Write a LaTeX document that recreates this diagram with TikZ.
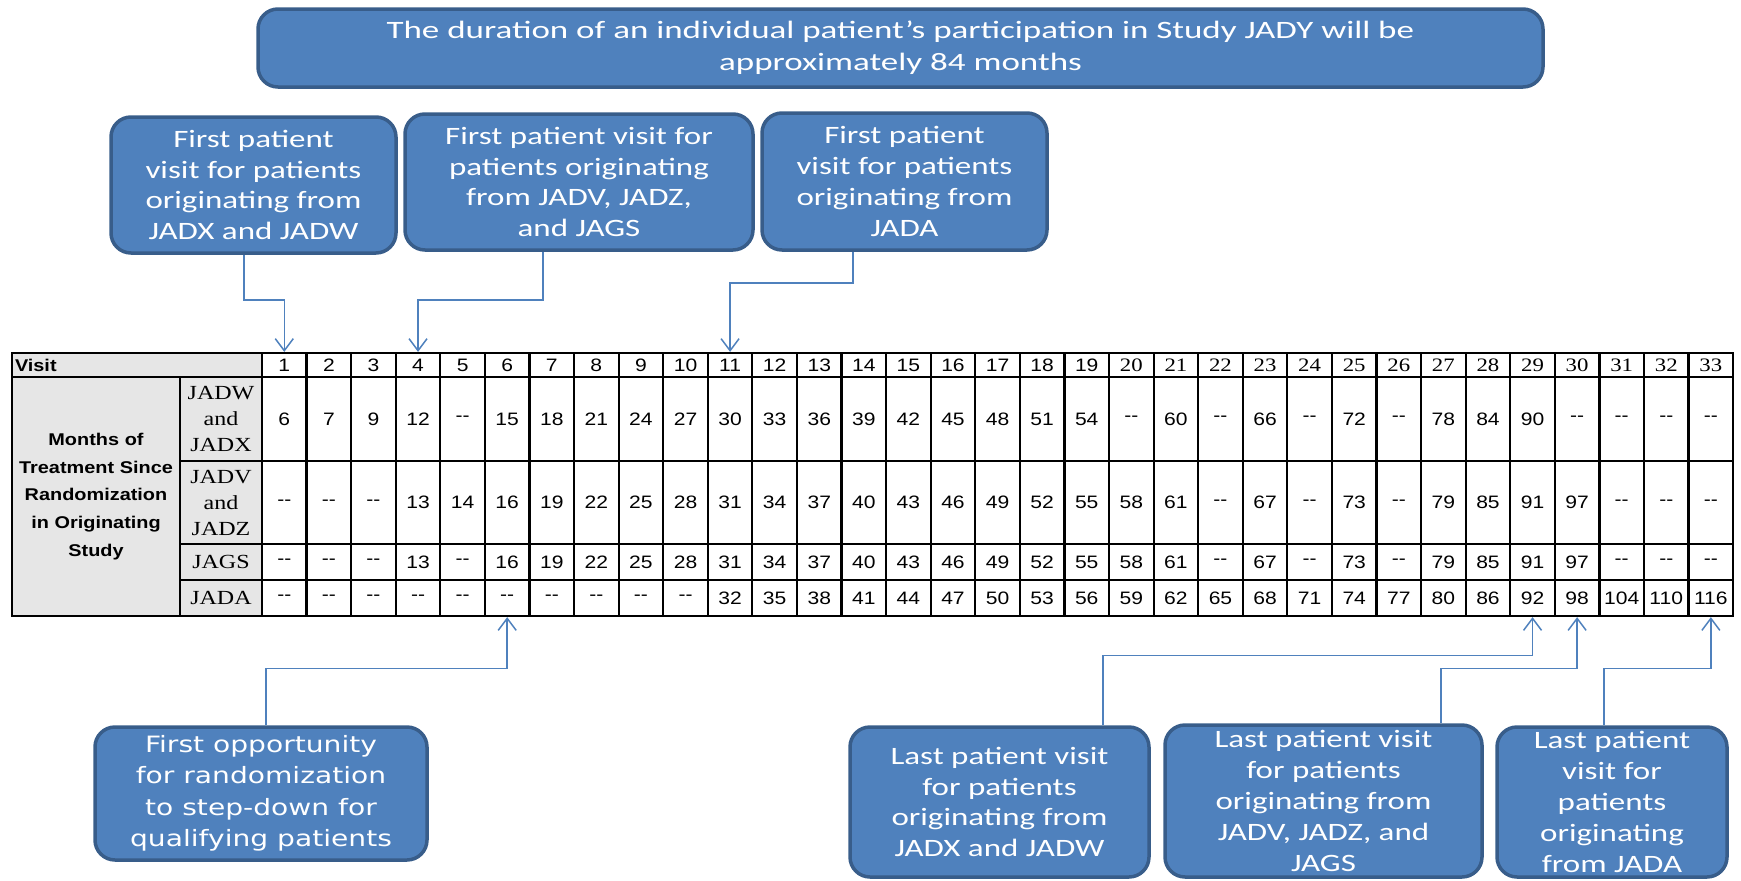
\documentclass[tikz,border=0pt]{standalone}
\usepackage{fontspec}
\usetikzlibrary{positioning,arrows.meta}

\newfontfamily\boxfont[FakeStretch=1.32]{Carlito}
\newfontfamily\titlefont[FakeStretch=1.4]{Carlito}
\newfontfamily\widefont[FakeStretch=1.25]{DejaVu Sans}
\newfontfamily\arialfont[FakeStretch=1.17]{Liberation Sans}
\newfontfamily\timesfont[FakeStretch=1.2]{Liberation Serif}

\definecolor{boxfill}{HTML}{4F81BD}
\definecolor{boxline}{HTML}{385D8A}
\definecolor{cellgray}{HTML}{E6E6E6}

\newcommand{\nd}{-{}-}
\newcommand{\colx}[1]{262+(#1-0.5)*44.58}

\tikzset{
  note/.style={draw=boxline, line width=3.5pt, fill=boxfill, rounded corners=20pt,
    text=white, align=center, inner sep=2pt, font=\boxfont\fontsize{25}{30.8}\selectfont},
  cell/.style={draw, line width=2.2pt, minimum width=44.58pt, inner sep=0pt,
    font=\arialfont\fontsize{18}{20}\selectfont},
  head/.style={cell, fill=cellgray},
  link/.style={draw=boxfill, line width=1.5pt,
    -{Straight Barb[length=12pt,width=18pt,line width=1.5pt]}}
}

\begin{document}
\begin{tikzpicture}[x=1pt,y=-1pt]
\useasboundingbox (0,0) rectangle (1741,881);

% header cells
\node[head, minimum width=250pt, minimum height=24pt, text width=244pt, align=left,
  font=\arialfont\bfseries\fontsize{17}{20}\selectfont] (visit) at (137,365) {Visit};
\node[head, minimum width=168pt, minimum height=239pt, text width=166pt, align=center,
  font=\arialfont\bfseries\fontsize{17}{27.8}\selectfont] (months) at (96,496.5)
  {Months of\\Treatment Since\\Randomization\\in Originating\\Study};
\node[head, minimum width=82pt, minimum height=84pt, align=center,
  font=\timesfont\fontsize{20}{26}\selectfont] (s_w) at (221,419) {JADW\\and\\JADX};
\node[head, minimum width=82pt, minimum height=83pt, align=center,
  font=\timesfont\fontsize{20}{26}\selectfont] (s_z) at (221,502.5) {JADV\\and\\JADZ};
\node[head, minimum width=82pt, minimum height=36pt,
  font=\timesfont\fontsize{20}{20}\selectfont] (s_g) at (221,562) {JAGS};
\node[head, minimum width=82pt, minimum height=36pt,
  font=\timesfont\fontsize{20}{20}\selectfont] (s_a) at (221,598) {JADA};

% visit numbers
\foreach \i in {1,...,33}
  \node[cell, minimum height=24pt] (v_\i) at ({\colx{\i}},365)
    {\ifnum\i<20 \i\else{\timesfont\fontsize{19}{20}\selectfont\i}\fi};

% months per originating study
\foreach \val [count=\i] in {6,7,9,12,\nd,15,18,21,24,27,30,33,36,39,42,45,48,51,54,\nd,
    60,\nd,66,\nd,72,\nd,78,84,90,\nd,\nd,\nd,\nd}
  \node[cell, minimum height=84pt] (w_\i) at ({\colx{\i}},419) {\val};
\foreach \val [count=\i] in {\nd,\nd,\nd,13,14,16,19,22,25,28,31,34,37,40,43,46,49,52,55,58,
    61,\nd,67,\nd,73,\nd,79,85,91,97,\nd,\nd,\nd}
  \node[cell, minimum height=83pt] (z_\i) at ({\colx{\i}},502.5) {\val};
\foreach \val [count=\i] in {\nd,\nd,\nd,13,\nd,16,19,22,25,28,31,34,37,40,43,46,49,52,55,58,
    61,\nd,67,\nd,73,\nd,79,85,91,97,\nd,\nd,\nd}
  \node[cell, minimum height=36pt] (g_\i) at ({\colx{\i}},562) {\val};
\foreach \val [count=\i] in {\nd,\nd,\nd,\nd,\nd,\nd,\nd,\nd,\nd,\nd,32,35,38,41,44,47,50,53,
    56,59,62,65,68,71,74,77,80,86,92,98,104,110,116}
  \node[cell, minimum height=36pt] (a_\i) at ({\colx{\i}},598) {\val};

% call-out boxes
\node[note, minimum width=1285pt, minimum height=78pt, font=\titlefont\fontsize{25}{32}\selectfont]
  (title) at (900.5,48)
  {The duration of an individual patient’s participation in Study JADY will be\\approximately 84 months};
\node[note, minimum width=285pt, minimum height=136pt] (first_x) at (253.5,185)
  {First patient\\visit for patients\\originating from\\JADX and JADW};
\node[note, minimum width=348pt, minimum height=136pt] (first_v) at (579,182)
  {First patient visit for\\patients originating\\from JADV, JADZ,\\and JAGS};
\node[note, minimum width=285pt, minimum height=137pt] (first_a) at (904.5,181.5)
  {First patient\\visit for patients\\originating from\\JADA};
\node[note, minimum width=332pt, minimum height=133pt,
  font=\widefont\fontsize{22.5}{31.5}\selectfont] (opp) at (261,793.5)
  {First opportunity\\for randomization\\to step-down for\\qualifying patients};
\node[note, minimum width=299pt, minimum height=150pt] (last_x) at (999.5,802)
  {Last patient visit\\for patients\\originating from\\JADX and JADW};
\node[note, minimum width=317pt, minimum height=152pt] (last_v) at (1323.5,801)
  {Last patient visit\\for patients\\originating from\\JADV, JADZ, and\\JAGS};
\node[note, minimum width=230pt, minimum height=150pt] (last_a) at (1612,802)
  {Last patient\\visit for\\patients\\originating\\from JADA};

% connectors
\draw[link] ([xshift=-9.5pt]first_x.south) -- ++(0,45) -| (v_1.north);
\draw[link] ([xshift=-36pt]first_v.south) -- ++(0,48) -| (v_4.north);
\draw[link] ([xshift=-51.5pt]first_a.south) -- ++(0,31) -| (v_11.north);
\draw[link] ([xshift=5pt]opp.north) -- ++(0,-57) -| (a_6.south);
\draw[link] ([xshift=103.5pt]last_x.north) -- ++(0,-70) -| (a_29.south);
\draw[link] ([xshift=117.5pt]last_v.north) -- ++(0,-55) -| (a_30.south);
\draw[link] ([xshift=-8pt]last_a.north) -- ++(0,-57) -| (a_33.south);
\end{tikzpicture}
\end{document}
